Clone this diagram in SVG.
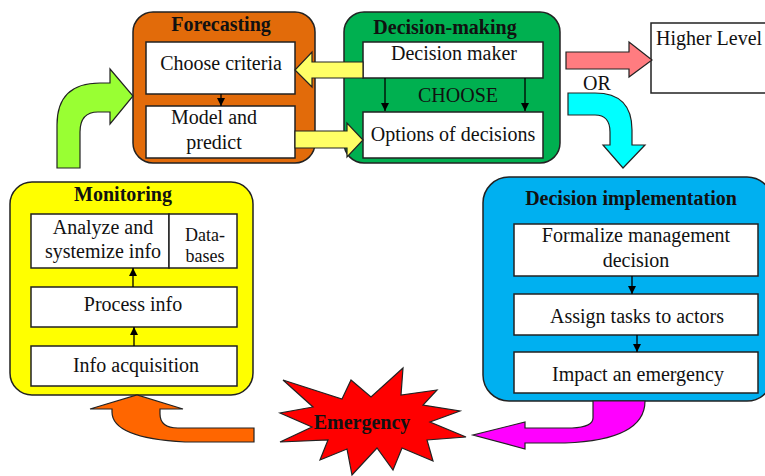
<svg xmlns="http://www.w3.org/2000/svg" width="765" height="476" viewBox="0 0 765 476" font-family="'Liberation Serif', 'Times New Roman', 'DejaVu Serif', serif" font-size="20">
<style>
text{font-family:'Liberation Serif','Times New Roman','DejaVu Serif',serif;font-size:20px;fill:#111;}
.t{font-weight:bold;}
.c{text-anchor:middle;}
.s{font-size:18px;}
.ct{stroke:#222;stroke-width:1.5;}
.bx{fill:#fff;stroke:#222;stroke-width:1.5;}
.ar{stroke:#222;stroke-width:1.2;stroke-linejoin:miter;}
.ln{stroke:#000;stroke-width:1.3;fill:none;marker-end:url(#ah);}
</style>
<defs>
<marker id="ah" viewBox="0 0 10 10" refX="10" refY="5" markerWidth="8" markerHeight="8" markerUnits="userSpaceOnUse" orient="auto">
<path d="M0,0 L10,5 L0,10 Z" fill="#000"/>
</marker>
</defs>
<rect width="765" height="476" fill="#fff"/>

<g id="forecasting">
<rect class="ct" x="133" y="12" width="182" height="151" rx="20" fill="#E26B0A"/>
<text class="t c" x="221" y="31">Forecasting</text>
<rect class="bx" x="146" y="42" width="149" height="52"/>
<text class="c" x="221" y="70">Choose criteria</text>
<rect class="bx" x="146" y="106" width="149" height="52"/>
<text class="c" x="214" y="124">Model and</text>
<text class="c" x="214" y="149">predict</text>
</g>

<g id="decision-making">
<rect class="ct" x="344" y="12" width="216" height="151" rx="20" fill="#00B050"/>
<text class="t c" x="445" y="34">Decision-making</text>
<rect class="bx" x="363" y="42" width="180" height="36"/>
<text class="c" x="454" y="60">Decision maker</text>
<text class="c" x="458" y="102" fill="#063">CHOOSE</text>
<rect class="bx" x="363" y="112" width="180" height="46"/>
<text class="c" x="453" y="141">Options of decisions</text>
</g>

<g id="higher-level">
<rect class="bx" x="651" y="23" width="120" height="70"/>
<text x="656" y="45">Higher Level</text>
</g>

<g id="monitoring">
<rect class="ct" x="10" y="182" width="243" height="213" rx="22" fill="#FFFF00"/>
<text class="t c" x="123" y="201">Monitoring</text>
<rect class="bx" x="31" y="214" width="138" height="54"/>
<text class="c" x="103" y="234">Analyze and</text>
<text class="c" x="103" y="258">systemize info</text>
<rect class="bx" x="169" y="214" width="68" height="54"/>
<text class="c s" x="205" y="241">Data-</text>
<text class="c s" x="205" y="262">bases</text>
<rect class="bx" x="31" y="287" width="206" height="40"/>
<text class="c" x="133" y="311">Process info</text>
<rect class="bx" x="31" y="346" width="206" height="40"/>
<text class="c" x="136" y="372">Info acquisition</text>
</g>

<g id="decision-implementation">
<rect class="ct" x="483" y="177" width="290" height="224" rx="26" fill="#00B0F0"/>
<text class="t c" x="631" y="205">Decision implementation</text>
<rect class="bx" x="514" y="224" width="244" height="52"/>
<text class="c" x="636" y="242">Formalize management</text>
<text class="c" x="636" y="267">decision</text>
<rect class="bx" x="514" y="294" width="244" height="41"/>
<text class="c" x="637" y="323">Assign tasks to actors</text>
<rect class="bx" x="514" y="352" width="244" height="41"/>
<text class="c" x="638" y="381">Impact an emergency</text>
</g>

<g id="emergency">
<polygon class="ar" fill="#FF0000" points="283,380 342,399 351,380 371,397 403,368 401,395 437,390 423,405 460,411 430,422 466,437 427,440 433,461 402,448 393,470 377,448 352,475 347,449 320,460 328,440 280,442 312,427 280,413 313,407"/>
<text class="t c" x="362" y="429">Emergency</text>
</g>

<g id="connectors">
<path class="ar" fill="#FFFF66" d="M363,62 L312,62 L312,52 L295,70 L312,87 L312,78 L363,78 Z"/>
<path class="ar" fill="#FFFF66" d="M295,131 L347,131 L347,123 L363,140 L347,157 L347,148 L295,148 Z"/>
<path class="ar" fill="#FF7C80" d="M566,52 L629,52 L629,42 L652,60 L629,77 L629,69 L566,69 Z"/>
<path class="ar" fill="#00FFFF" d="M568,93 L595,93 Q632,93 632,130 L632,145 L645,145 L623,168 L603,145 L610,145 L610,132 Q610,115 595,115 L568,115 Z"/>
<path class="ar" fill="#99FF33" d="M57,168 L57,125 Q57,83 100,83 L110,83 L110,69 L133,96 L110,124 L110,112 L98,112 Q80,112 80,132 L80,168 Z"/>
<path class="ar" fill="#FF6600" d="M254,442 L185,442 Q112,438 112,412 L112,409 L90,409 L137,395 L183,409 L160,409 L160,414 Q160,428 178,428 L254,428 Z"/>
<path class="ar" fill="#FF00FF" d="M593,401 L593,418 Q593,427 572,428 L525,428 L525,422 L473,435 L525,449 L525,443 L565,443 Q645,440 645,401 Z"/>
<line class="ln" x1="221" y1="94" x2="221" y2="106"/>
<line class="ln" x1="385" y1="78" x2="385" y2="111"/>
<line class="ln" x1="525" y1="78" x2="525" y2="111"/>
<line class="ln" x1="133" y1="287" x2="133" y2="268"/>
<line class="ln" x1="134" y1="346" x2="134" y2="327"/>
<line class="ln" x1="632" y1="276" x2="632" y2="294"/>
<line class="ln" x1="637" y1="335" x2="637" y2="352"/>
<text x="583" y="90">OR</text>
</g>
</svg>
